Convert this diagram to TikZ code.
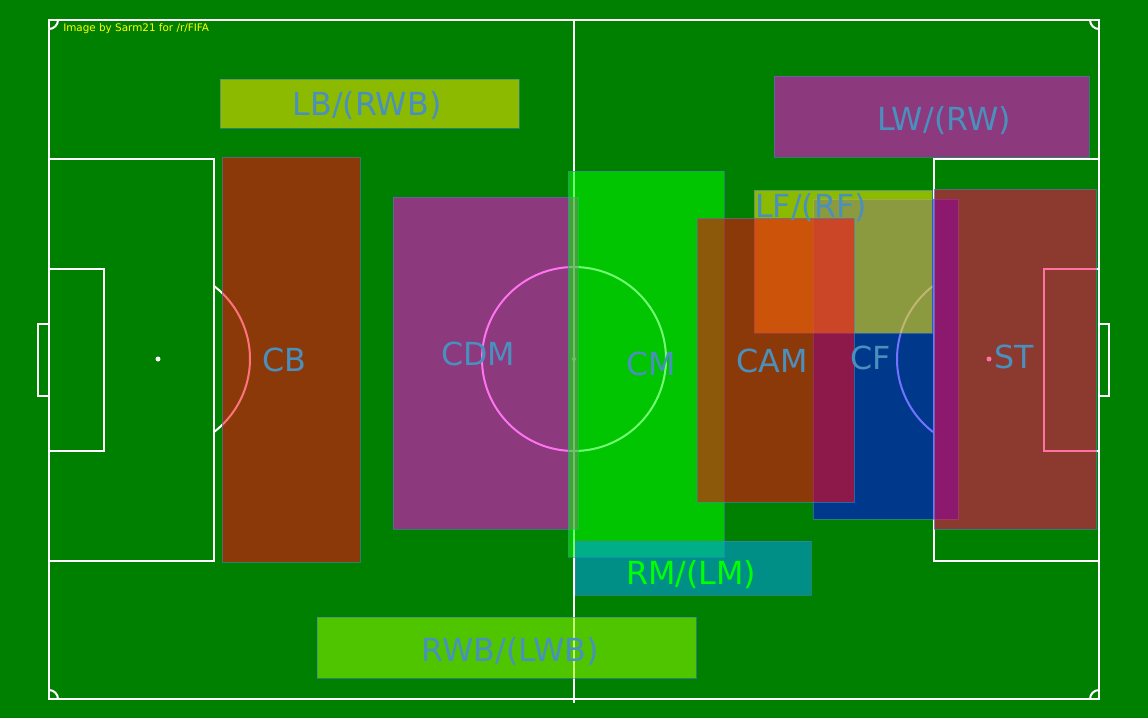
\documentclass[tikz,border=0pt]{standalone}
\usepackage{fontspec}
\setmainfont{DejaVu Sans}
\begin{document}
\begin{tikzpicture}[x=0.75pt,y=0.75pt,yscale=-1,
  pitchline/.style={draw=white,line width=1.5},
  zone/.style={fill opacity=0.55,draw={rgb, 255:red, 70; green, 130; blue, 180},draw opacity=0.6,line width=0.6},
  zonelabel/.style={anchor=base,inner sep=0pt,text={rgb, 255:red, 74; green, 144; blue, 190},font=\fontsize{23.8}{26}\selectfont}
]
%Background: grass
\fill [fill={rgb, 255:red, 0; green, 128; blue, 0 }] (0,0) rectangle (1148,718) ;
\useasboundingbox (0,0) rectangle (1148,718) ;

%Pitch outline and halfway line
\draw [pitchline] (49,20) rectangle (1099,699) ;
\draw [pitchline] (574,20) -- (574,703) ;
%Centre circle
\draw [pitchline] (574,359) circle [radius=92] ;
\fill [white] (574,359) circle [radius=2] ;
%Left penalty area, goal area, goal
\draw [pitchline] (49,159) rectangle (214,561) ;
\draw [pitchline] (49,269) rectangle (104,451) ;
\draw [pitchline] (38,324) rectangle (49,396) ;
\draw [pitchline] (158,359) ++(-52.5:92) arc [start angle=-52.5, end angle=52.5, radius=92] ;
\fill [white] (158,359) circle [radius=2.5] ;
%Right penalty area, goal area, goal
\draw [pitchline] (934,159) rectangle (1099,561) ;
\draw [pitchline] (1044,269) rectangle (1099,451) ;
\draw [pitchline] (1099,324) rectangle (1109,396) ;
\draw [pitchline] (989,359) ++(127.5:92) arc [start angle=127.5, end angle=232.5, radius=92] ;
\fill [white] (989,359) circle [radius=2.5] ;
%Corner arcs
\draw [pitchline] (49,29) arc [start angle=90, end angle=0, radius=9] ;
\draw [pitchline] (1090,20) arc [start angle=180, end angle=90, radius=9] ;
\draw [pitchline] (49,690) arc [start angle=-90, end angle=0, radius=9] ;
\draw [pitchline] (1090,699) arc [start angle=180, end angle=270, radius=9] ;

%Zones
\draw [zone, fill={rgb, 255:red, 255; green, 0; blue, 20 }] (222,157) rectangle (360,562) ;
\draw [zone, fill={rgb, 255:red, 255; green, 0; blue, 228 }] (393,197) rectangle (578,529) ;
\draw [zone, fill={rgb, 255:red, 0; green, 255; blue, 0 }] (568,171) rectangle (724,557) ;
\draw [zone, fill={rgb, 255:red, 0; green, 0; blue, 255 }] (813,199) rectangle (958,519) ;
\draw [zone, fill={rgb, 255:red, 255; green, 235; blue, 0 }] (754,190) rectangle (932,333) ;
\draw [zone, fill={rgb, 255:red, 255; green, 0; blue, 20 }] (697,218) rectangle (854,502) ;
\draw [zone, fill={rgb, 255:red, 255; green, 0; blue, 87 }] (934,189) rectangle (1096,529) ;
\draw [zone, fill={rgb, 255:red, 0; green, 157; blue, 247 }] (575,541) rectangle (811,595) ;
\draw [zone, fill={rgb, 255:red, 255; green, 235; blue, 0 }] (220,79) rectangle (519,128) ;
\draw [zone, fill={rgb, 255:red, 255; green, 0; blue, 228 }] (774,76) rectangle (1089,157) ;
\draw [zone, fill={rgb, 255:red, 145; green, 255; blue, 0 }] (317,617) rectangle (696,678) ;

%Labels
\node [zonelabel] (lb) at (367,115) {LB/(RWB)};
\node [zonelabel] (lw) at (944,130) {LW/(RW)};
\node [zonelabel] (cb) at (284,371) {CB};
\node [zonelabel] (cdm) at (478,365) {CDM};
\node [zonelabel] (cm) at (651,375) {CM};
\node [zonelabel, anchor=base west] (lf) at (755,217) {LF/(RF)};
\node [zonelabel] (cam) at (772,372) {CAM};
\node [zonelabel] (cf) at (871,369) {CF};
\node [zonelabel] (st) at (1014,368) {ST};
\node [zonelabel, text={rgb, 255:red, 0; green, 255; blue, 0 }] (rm) at (691,584) {RM/(LM)};
\node [zonelabel] (rwb) at (510,661) {RWB/(LWB)};
\node [anchor=base west, inner sep=0pt, text={rgb, 255:red, 255; green, 255; blue, 0 }, font=\fontsize{7.8}{9}\selectfont] (credit) at (63,31) {Image by Sarm21 for /r/FIFA};

\end{tikzpicture}
\end{document}
